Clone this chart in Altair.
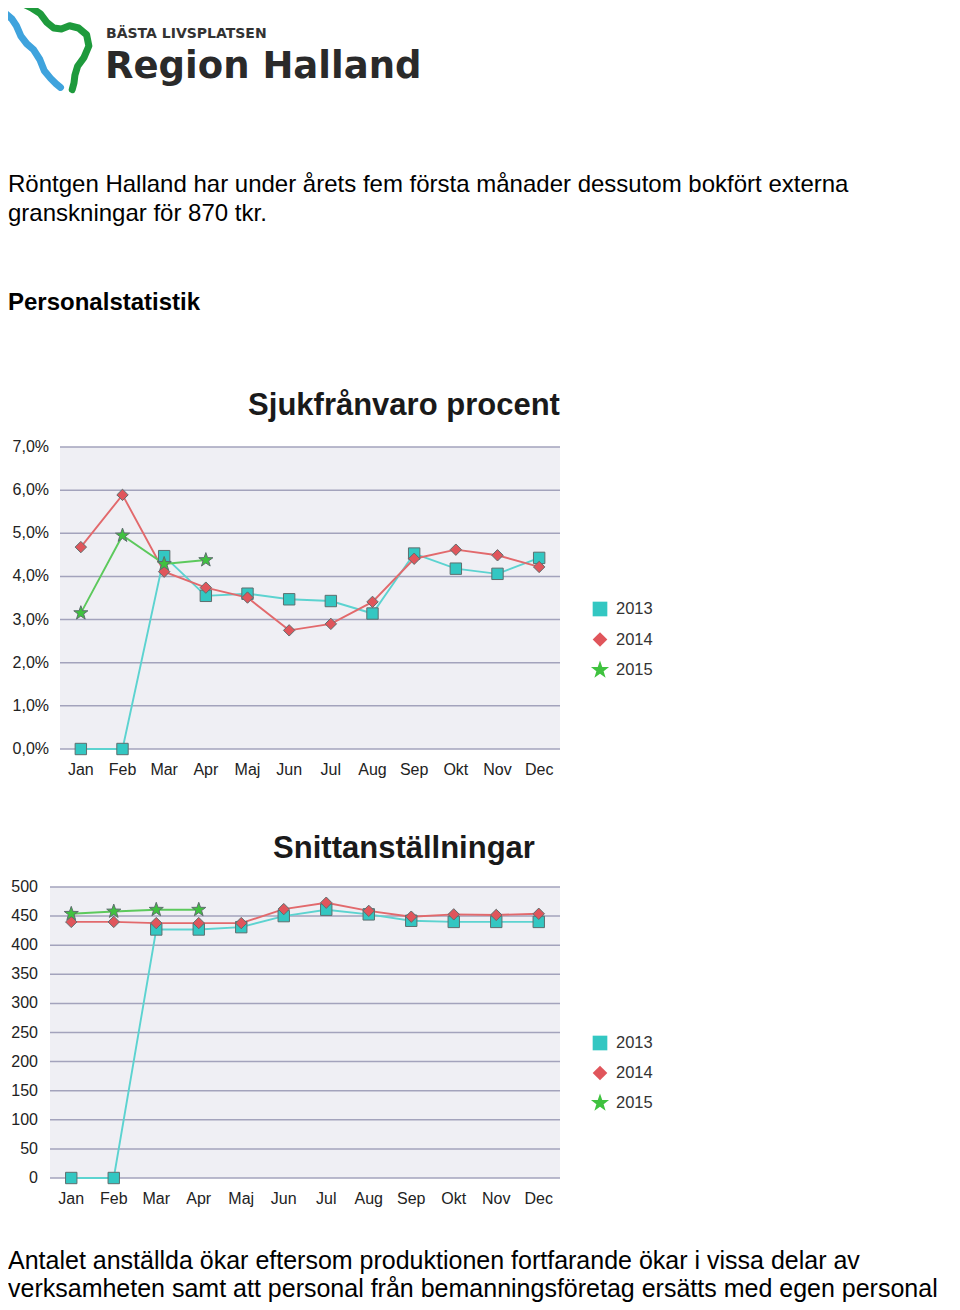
import altair as alt
import pandas as pd

# ---------------- data ----------------
months = ["Jan", "Feb", "Mar", "Apr", "Maj", "Jun", "Jul", "Aug", "Sep", "Okt", "Nov", "Dec"]
years = ["2013", "2014", "2015"]

sjuk_2013 = [0.0, 0.0, 4.47, 3.55, 3.60, 3.47, 3.43, 3.14, 4.53, 4.18, 4.06, 4.43]
sjuk_2014 = [4.68, 5.89, 4.11, 3.74, 3.51, 2.75, 2.90, 3.41, 4.41, 4.62, 4.49, 4.22]
sjuk_2015 = [3.15, 4.95, 4.29, 4.38]

snitt_2013 = [0, 0, 427, 427, 431, 450, 461, 453, 442, 440, 440, 440]
snitt_2014 = [440, 440, 438, 438, 438, 462, 473, 459, 449, 453, 452, 454]
snitt_2015 = [454, 458, 461, 461]

sjuk_ticks = [0, 1, 2, 3, 4, 5, 6, 7]
sjuk_tick_labels = ["0,0%", "1,0%", "2,0%", "3,0%", "4,0%", "5,0%", "6,0%", "7,0%"]
snitt_ticks = [0, 50, 100, 150, 200, 250, 300, 350, 400, 450, 500]
snitt_tick_labels = ["0", "50", "100", "150", "200", "250", "300", "350", "400", "450", "500"]

title_sjuk = "Sjukfrånvaro procent"
title_snitt = "Snittanställningar"
text_line1 = "Röntgen Halland har under årets fem första månader dessutom bokfört externa"
text_line2 = "granskningar för 870 tkr."
text_heading = "Personalstatistik"
text_bottom1 = "Antalet anställda ökar eftersom produktionen fortfarande ökar i vissa delar av"
text_bottom2 = "verksamheten samt att personal från bemanningsföretag ersätts med egen personal"
logo_small = "BÄSTA LIVSPLATSEN"
logo_big = "Region Halland"


def long_df(series):
    rows = []
    for yr, vals in zip(years, series):
        for i, v in enumerate(vals):
            rows.append({"month": months[i], "mi": i, "year": yr, "value": v})
    return pd.DataFrame(rows)


df_sjuk = long_df([sjuk_2013, sjuk_2014, sjuk_2015])
df_snitt = long_df([snitt_2013, snitt_2014, snitt_2015])
df_months = pd.DataFrame({"month": months})
df_years = pd.DataFrame({"year": years})
df_sjuk_ticks = pd.DataFrame({"v": sjuk_ticks, "label": sjuk_tick_labels})
df_snitt_ticks = pd.DataFrame({"v": snitt_ticks, "label": snitt_tick_labels})
dummy = pd.DataFrame({"d": [0]})

# ---------------- styling ----------------
M = 8  # page margin: chart coordinate = page coordinate - M


def P(v):
    return v - M


FONT = "Liberation Sans, Arial, sans-serif"
BG = "#EFEFF4"
GRID = "#A3A3BC"
LABEL = "#222222"

# five-pointed star as a custom symbol path (Vega has no built-in star)
STAR = ("M0,-1.3L0.306,-0.421L1.236,-0.402L0.494,0.161L0.764,1.052L0,0.52"
        "L-0.764,1.052L-0.494,0.161L-1.236,-0.402L-0.306,-0.421Z")

fill_scale = alt.Scale(domain=years, range=["#33C7C2", "#E0555B", "#3FC23F"])
stroke_scale = alt.Scale(domain=years, range=["#5CD3D0", "#E2696C", "#5CC95C"])
shape_scale = alt.Scale(domain=years, range=["square", "diamond", STAR])


def txt(s, x, y, size, weight="normal", font=FONT, align="left", color="#000000"):
    return alt.Chart(dummy).mark_text(
        text=s, align=align, baseline="alphabetic", fontSize=size,
        fontWeight=weight, font=font, color=color
    ).encode(x=alt.value(x), y=alt.value(y))


def line_panel(df, df_ticks, x0, x1, ybot, ytop, dmax, label_x, month_y):
    xs = alt.Scale(type="point", domain=months, range=[P(x0), P(x1)], padding=0.5)
    ys = alt.Scale(type="linear", domain=[0, dmax], range=[P(ybot), P(ytop)], nice=False, zero=False)

    bg = alt.Chart(pd.DataFrame({"top": [df_ticks["v"].max()], "bottom": [df_ticks["v"].min()]})).mark_rect(
        color=BG
    ).encode(
        x=alt.value(P(x0)), x2=alt.value(P(x1)),
        y=alt.Y("top:Q", scale=ys, axis=None), y2="bottom:Q",
    )
    grid = alt.Chart(df_ticks).mark_rule(color=GRID, strokeWidth=1.5).encode(
        y=alt.Y("v:Q", scale=ys, axis=None),
        x=alt.value(P(x0)), x2=alt.value(P(x1)),
    )
    ylab = alt.Chart(df_ticks).mark_text(
        align="right", baseline="middle", fontSize=16, font=FONT, color=LABEL
    ).encode(
        y=alt.Y("v:Q", scale=ys, axis=None), x=alt.value(P(label_x)), text="label:N"
    )
    xlab = alt.Chart(df_months).mark_text(
        align="center", baseline="alphabetic", fontSize=16, font=FONT, color=LABEL
    ).encode(
        x=alt.X("month:N", scale=xs, axis=None), y=alt.value(P(month_y)), text="month:N"
    )
    lines = alt.Chart(df).mark_line(strokeWidth=1.9).encode(
        x=alt.X("month:N", scale=xs, axis=None),
        y=alt.Y("value:Q", scale=ys, axis=None),
        color=alt.Color("year:N", scale=stroke_scale, legend=None),
        order=alt.Order("mi:Q"),
    )
    pts = alt.Chart(df).mark_point(
        filled=True, opacity=1, stroke="#5E6E6E", strokeWidth=1, size=130
    ).encode(
        x=alt.X("month:N", scale=xs, axis=None),
        y=alt.Y("value:Q", scale=ys, axis=None),
        fill=alt.Fill("year:N", scale=fill_scale, legend=None),
        shape=alt.Shape("year:N", scale=shape_scale, legend=None),
    )
    return [bg, grid, ylab, xlab, lines, pts]


def legend_panel(y_first, y_last, sym_x, text_x):
    ys = alt.Scale(type="point", domain=years, range=[P(y_first), P(y_last)], padding=0)
    sym = alt.Chart(df_years).mark_point(filled=True, opacity=1, strokeWidth=0, size=215).encode(
        y=alt.Y("year:N", scale=ys, axis=None),
        x=alt.value(P(sym_x)),
        fill=alt.Fill("year:N", scale=fill_scale, legend=None),
        shape=alt.Shape("year:N", scale=shape_scale, legend=None),
    )
    lab = alt.Chart(df_years).mark_text(
        align="left", baseline="middle", fontSize=16.5, font=FONT, color="#333333"
    ).encode(
        y=alt.Y("year:N", scale=ys, axis=None), x=alt.value(P(text_x)), text="year:N"
    )
    return [sym, lab]


# logo squiggles drawn as custom symbol paths (unit space -1..1)
blue_path = "M-0.93,-0.73 L-0.78,-0.6 L-0.68,-0.45 L-0.58,-0.22 L-0.45,-0.05 L-0.3,0.08 L-0.16,0.3 L-0.06,0.55 L0.08,0.72 L0.2,0.84 L0.3,0.92"
green_path = "M-0.56,-0.95 L-0.35,-0.85 L-0.15,-0.72 L0.0,-0.52 L0.15,-0.4 L0.32,-0.38 L0.5,-0.45 L0.7,-0.4 L0.88,-0.25 L0.93,0.0 L0.82,0.26 L0.68,0.45 L0.62,0.65 L0.6,0.82 L0.56,0.97"

logo_blue = alt.Chart(dummy).mark_point(
    shape=blue_path, filled=False, opacity=1, stroke="#3FA3DD", strokeWidth=7,
    strokeCap="round", strokeJoin="round"
).encode(x=alt.value(P(47)), y=alt.value(P(46)), size=alt.value(8100))
logo_green = alt.Chart(dummy).mark_point(
    shape=green_path, filled=False, opacity=1, stroke="#1E9A3C", strokeWidth=7,
    strokeCap="round", strokeJoin="round"
).encode(x=alt.value(P(47)), y=alt.value(P(46)), size=alt.value(8100))

texts = [
    logo_blue,
    logo_green,
    txt(logo_small, P(106), P(38), 14, weight="bold", font="DejaVu Sans, sans-serif", color="#333333"),
    txt(logo_big, P(105), P(78), 37, weight="bold", font="DejaVu Sans, sans-serif", color="#2A2A2A"),
    txt(text_line1, 0, P(192), 24),
    txt(text_line2, 0, P(221), 24),
    txt(text_heading, 0, P(310), 24, weight="bold"),
    txt(title_sjuk, P(404), P(415), 31, weight="bold", align="center", color="#1A1A1A"),
    txt(title_snitt, P(404), P(858), 31, weight="bold", align="center", color="#1A1A1A"),
    txt(text_bottom1, 0, P(1269), 25),
    txt(text_bottom2, 0, P(1297), 25),
]

layers = (
    texts
    + line_panel(df_sjuk, df_sjuk_ticks, 60, 560, 749, 447, 7, 49, 775)
    + legend_panel(609, 670, 600, 616)
    + line_panel(df_snitt, df_snitt_ticks, 50, 560, 1178, 887, 500, 38, 1204)
    + legend_panel(1043, 1103, 600, 616)
)

chart = alt.layer(*layers).resolve_scale(
    x="independent", y="independent"
).properties(
    width=944, height=1294, padding=0,
    autosize=alt.AutoSizeParams(type="none"),
    background="white",
).configure_view(stroke=None)

chart.save("out.html", embed_options={"renderer": "svg", "actions": False})
